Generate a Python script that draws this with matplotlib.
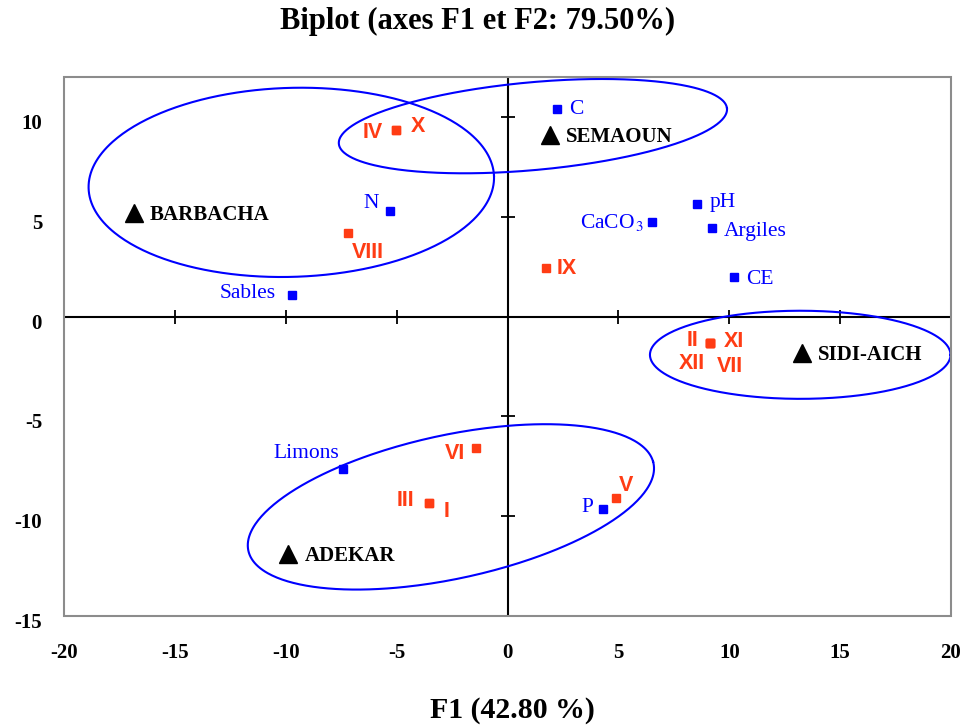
import numpy as np
import matplotlib
matplotlib.use("Agg")
import matplotlib.pyplot as plt
from matplotlib.patches import Rectangle
from matplotlib.transforms import ScaledTranslation

plt.rcParams["mathtext.fontset"] = "stix"
plt.rcParams["axes.unicode_minus"] = False

# variables (blue squares)
var_names = ["C", "N", "Sables", "CaCO$_{\\,3}$", "pH", "Argiles", "CE", "Limons", "P"]
var_x = [2.21, -5.31, -9.74, 6.52, 8.55, 9.21, 10.20, -7.41, 4.31]
var_y = [10.39, 5.28, 1.09, 4.76, 5.65, 4.42, 1.96, -7.65, -9.66]
var_offsets = [(12, 0, "left"), (-11, 8, "right"), (-16, 1, "right"), (-8, -1, "right"),
               (12, 1, "left"), (12, -3, "left"), (12, -2, "left"), (-4, 16, "right"),
               (-10, 2, "right")]

# samples (red squares)
obs_names = ["I", "II", "III", "IV", "V", "VI", "VII", "VIII", "IX", "X", "XI", "XII"]
obs_x = [-3.54, 9.12, -3.54, -5.04, 4.90, -1.44, 9.12, -7.19, 1.72, -5.04, 9.12, 9.12]
obs_y = [-9.38, -1.34, -9.38, 9.35, -9.10, -6.58, -1.34, 4.17, 2.45, 9.35, -1.34, -1.34]
obs_offsets = [(14, -8, "left"), (-11, 3, "right"), (-15, 3, "right"), (-13, -2, "right"),
               (3, 12, "left"), (-11, -6, "right"), (7, -23, "left"), (4, -19, "left"),
               (11, -1, "left"), (15, 4, "left"), (14, 2, "left"), (-5, -20, "right")]

# sites (black triangles)
site_names = ["BARBACHA", "SEMAOUN", "SIDI-AICH", "ADEKAR"]
site_x = [-16.87, 1.91, 13.27, -9.89]
site_y = [5.20, 9.13, -1.84, -11.89]

# group ellipses: centre, semi-axes, rotation (deg)
ell_cx = [-9.76, 1.14, 13.20, -2.56]
ell_cy = [6.73, 9.55, -1.92, -9.55]
ell_a = [9.15, 8.80, 6.78, 9.40]
ell_b = [4.74, 2.20, 2.21, 3.58]
ell_ang = [2.0, 5.85, 0.0, 13.95]

xticks = [-20, -15, -10, -5, 0, 5, 10, 15, 20]
yticks = [-15, -10, -5, 0, 5, 10]

BLUE = "#0000ff"
RED = "#ff3c14"
SERIF = "Liberation Serif"
SANS = "Liberation Sans"

fig = plt.figure(figsize=(9.63, 7.28), dpi=100)
ax = fig.add_axes([0.0668, 0.1545, 0.9207, 0.7393])
ax.set_xlim(-20, 20)
ax.set_ylim(-15, 12)

for s in ax.spines.values():
    s.set_visible(False)
ax.add_patch(Rectangle((0, 0), 1, 1, transform=ax.transAxes, fill=False,
                       edgecolor="#8c8c8c", lw=1.5, clip_on=False, zorder=5))

ax.set_xticks(xticks)
ax.set_yticks(yticks)
ax.tick_params(axis="x", length=0, pad=20)
ax.tick_params(axis="y", length=0, pad=16)
for lab in ax.get_xticklabels() + ax.get_yticklabels():
    lab.set_fontfamily(SERIF)
    lab.set_fontweight("bold")
    lab.set_fontsize(15)
shift_down = ScaledTranslation(0, -0.045, fig.dpi_scale_trans)
for lab in ax.get_yticklabels():
    lab.set_transform(lab.get_transform() + shift_down)

# central axes with crossing ticks
ax.axhline(0, color="black", lw=1.5, zorder=2)
ax.axvline(0, color="black", lw=1.5, zorder=2)
ax.plot(xticks, [0] * len(xticks), ls="none", marker="|", ms=9.5, mew=1.3,
        color="black", clip_on=False, zorder=2)
ax.plot([0] * len(yticks), yticks, ls="none", marker="_", ms=9.5, mew=1.3,
        color="black", clip_on=False, zorder=2)

t = np.linspace(0, 2 * np.pi, 400)
for cx, cy, a, b, ang in zip(ell_cx, ell_cy, ell_a, ell_b, ell_ang):
    th = np.deg2rad(ang)
    ex = cx + a * np.cos(t) * np.cos(th) - b * np.sin(t) * np.sin(th)
    ey = cy + a * np.cos(t) * np.sin(th) + b * np.sin(t) * np.cos(th)
    ax.plot(ex, ey, color=BLUE, lw=1.5, zorder=3)

ax.plot(var_x, var_y, ls="none", marker="s", ms=5.8, color=BLUE, zorder=4)
for name, x, y, (dx, dy, ha) in zip(var_names, var_x, var_y, var_offsets):
    ax.annotate(name, (x, y), xytext=(dx, dy), textcoords="offset pixels",
                ha=ha, va="center", color=BLUE, fontsize=15.5, fontfamily=SERIF)

ax.plot(obs_x, obs_y, ls="none", marker="s", ms=5.8, color=RED, zorder=4)
for name, x, y, (dx, dy, ha) in zip(obs_names, obs_x, obs_y, obs_offsets):
    ax.annotate(name, (x, y), xytext=(dx, dy), textcoords="offset pixels",
                ha=ha, va="center", color=RED, fontsize=15.5, fontfamily=SANS,
                fontweight="bold")

ax.plot(site_x, site_y, ls="none", marker="^", ms=13, color="black", zorder=4)
for name, x, y in zip(site_names, site_x, site_y):
    ax.annotate(name, (x, y), xytext=(16, -2), textcoords="offset pixels",
                ha="left", va="center", color="black", fontsize=15,
                fontfamily=SERIF, fontweight="bold")

fig.text(0.496, 0.970, "Biplot (axes F1 et F2: 79.50%)", ha="center", va="center",
         fontsize=22, fontfamily=SERIF, fontweight="bold")
fig.text(0.532, 0.024, "F1 (42.80 %)", ha="center", va="center",
         fontsize=21.5, fontfamily=SERIF, fontweight="bold")

fig.savefig("out.png", dpi=100)
